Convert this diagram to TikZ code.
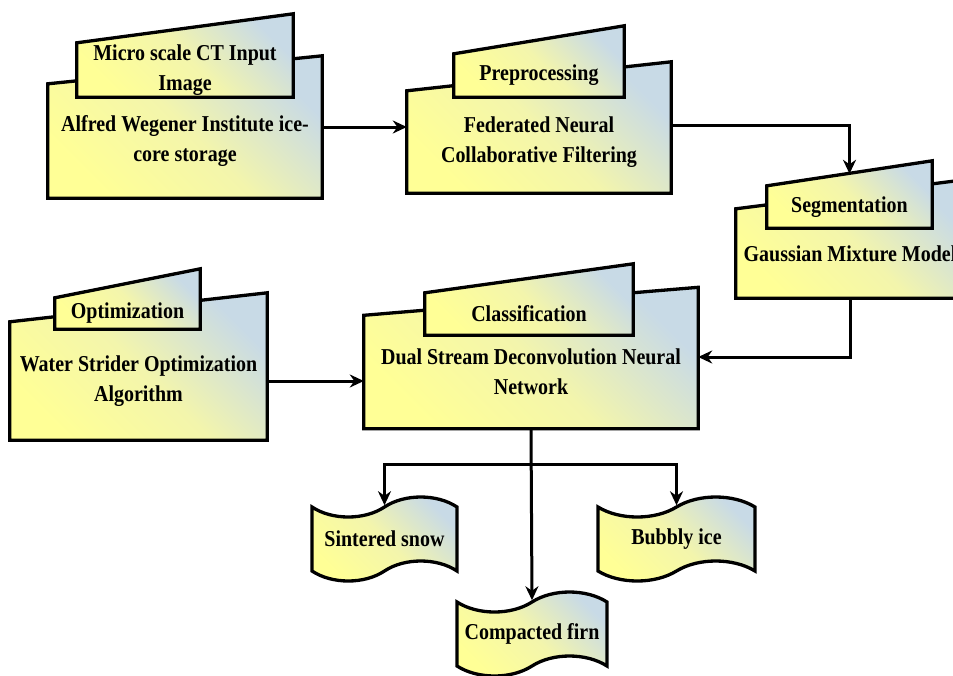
\documentclass[tikz,border=0pt]{standalone}
\usepackage{fontspec}
\setmainfont{Liberation Serif}[FakeStretch=0.88]
\usetikzlibrary{arrows.meta,calc,backgrounds,shapes.symbols}

\definecolor{boxyellow}{RGB}{255,255,150}
\definecolor{boxmid}{RGB}{243,245,172}
\definecolor{boxblue}{RGB}{200,218,230}
\newcommand\stagefont{\bfseries\fontsize{22.7}{30}\selectfont}

\tikzset{
  stagefill/.style={draw=black, line width=3.3pt, line join=miter,
    top color=boxblue, bottom color=boxyellow, middle color=boxmid, shading angle=-45},
  bodybox/.style={rectangle, draw=none, inner sep=0pt, align=center, font=\stagefont},
  leaf/.style={tape, stagefill, tape bend height=20pt, inner sep=0pt, font=\stagefont},
  flow/.style={line width=3pt, -{Stealth[length=14pt,width=13pt]}},
}

\begin{document}
\begin{tikzpicture}[x=1pt,y=1pt,yscale=-1]
\useasboundingbox (0,0) rectangle (953,675);
\clip (0,0) rectangle (953,675);

%Input stage
\node[bodybox, minimum width=274pt, minimum height=114pt] (awi) at (185,141) {Alfred Wegener Institute ice-\\core storage};
\node[bodybox, minimum width=216pt, minimum height=54pt] (ctimg) at (185,70) {Micro scale CT Input\\Image};
%Preprocessing stage
\node[bodybox, minimum width=264pt, minimum height=102pt] (fncf) at (539,142) {Federated Neural\\Collaborative Filtering};
\node[bodybox, minimum width=170pt, minimum height=43pt] (prep) at (539,75.5) {Preprocessing};
%Segmentation stage
\node[bodybox, minimum width=228pt, minimum height=89pt] (gmm) at (850,253.5) {Gaussian Mixture Model};
\node[bodybox, minimum width=165pt, minimum height=42pt] (segm) at (849.5,207) {Segmentation};
%Optimization stage
\node[bodybox, minimum width=257pt, minimum height=118pt] (wso) at (138.5,381) {Water Strider Optimization\\Algorithm};
\node[bodybox, minimum width=145pt, minimum height=31pt] (optm) at (127.5,313.5) {Optimization};
%Classification stage
\node[bodybox, minimum width=334pt, minimum height=113pt] (dsdnn) at (531,372) {Dual Stream Deconvolution Neural\\Network};
\node[bodybox, minimum width=208pt, minimum height=42pt] (clsf) at (529,314) {Classification};
%Output classes
\node[leaf, minimum width=145pt, minimum height=84pt] (snow) at (384.5,539) {Sintered snow};
\node[leaf, minimum width=157pt, minimum height=84pt] (bubbly) at (676.5,539) {Bubbly ice};
\node[leaf, minimum width=150pt, minimum height=84pt] (firn) at (532,634) {Compacted firn};

%Sloped boxes behind the texts
\begin{scope}[on background layer]
\draw[stagefill] (awi.south west) -- (awi.north west) -- ($(awi.north east)+(0,-28)$) -- (awi.south east) -- cycle;
\draw[stagefill] (ctimg.south west) -- (ctimg.north west) -- ($(ctimg.north east)+(0,-29)$) -- (ctimg.south east) -- cycle;
\draw[stagefill] (fncf.south west) -- (fncf.north west) -- ($(fncf.north east)+(0,-29)$) -- (fncf.south east) -- cycle;
\draw[stagefill] (prep.south west) -- (prep.north west) -- ($(prep.north east)+(0,-28)$) -- (prep.south east) -- cycle;
\draw[stagefill] (gmm.south west) -- (gmm.north west) -- ($(gmm.north east)+(0,-29)$) -- (gmm.south east) -- cycle;
\draw[stagefill] (segm.south west) -- (segm.north west) -- ($(segm.north east)+(0,-25)$) -- (segm.south east) -- cycle;
\draw[stagefill] (wso.south west) -- (wso.north west) -- ($(wso.north east)+(0,-29)$) -- (wso.south east) -- cycle;
\draw[stagefill] (optm.south west) -- (optm.north west) -- ($(optm.north east)+(0,-29)$) -- (optm.south east) -- cycle;
\draw[stagefill] (dsdnn.south west) -- (dsdnn.north west) -- ($(dsdnn.north east)+(0,-28)$) -- (dsdnn.south east) -- cycle;
\draw[stagefill] (clsf.south west) -- (clsf.north west) -- ($(clsf.north east)+(0,-29)$) -- (clsf.south east) -- cycle;
\end{scope}

%Connectors
\coordinate (a1) at ($(awi.east)+(0,-14)$);
\draw[flow] (a1) -- (a1 -| fncf.west);
\draw[flow] ($(fncf.east)+(0,-17)$) -| ($(segm.north)+(0,-12)$);
\draw[flow] (gmm.south) |- ($(dsdnn.east)+(0,-15)$);
\draw[flow] (wso.east) -- (wso.east -| dsdnn.west);
\coordinate (split) at ($(dsdnn.south)+(0,36)$);
\draw[flow] (dsdnn.south) -- (firn.north);
\draw[flow] (split) -| (snow.north);
\draw[flow] (split) -| (bubbly.north);

\end{tikzpicture}
\end{document}
